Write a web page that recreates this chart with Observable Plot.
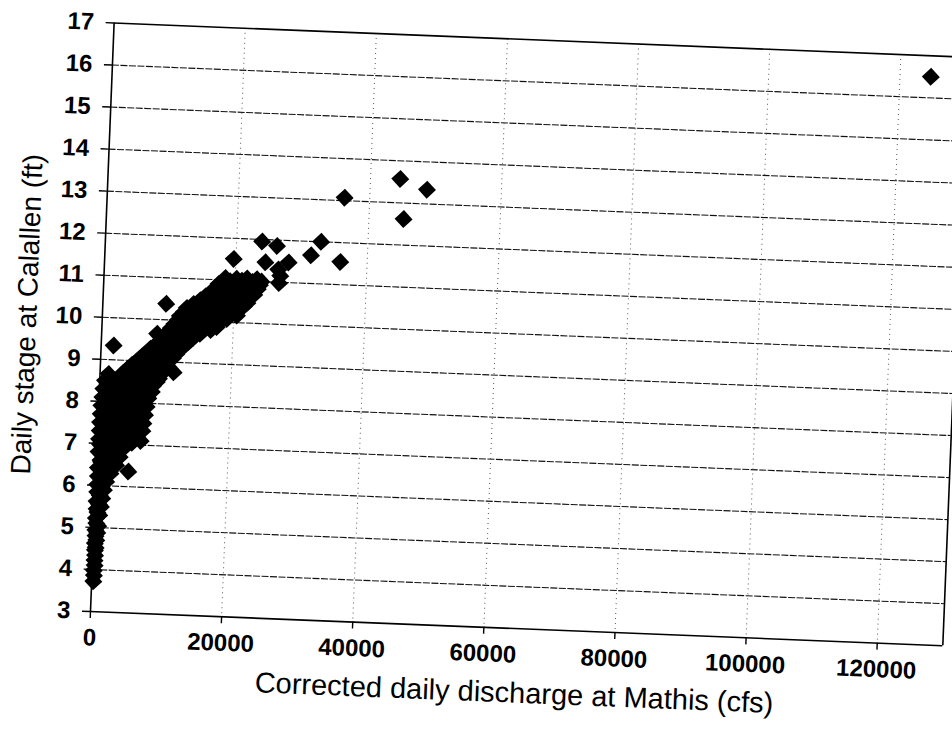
<!DOCTYPE html>
<html>
<head>
<meta charset="utf-8">
<script src="https://cdn.jsdelivr.net/npm/d3@7"></script>
<script src="https://cdn.jsdelivr.net/npm/@observablehq/plot@0.6"></script>
<style>
  html, body { margin: 0; padding: 0; background: #fff; overflow: hidden; }
  #chart { width: 952px; height: 730px; transform: rotate(2.3deg); transform-origin: 90px 611px; }
</style>
</head>
<body>
<div id="chart"></div>
<script>
// Corrected daily discharge at Mathis (cfs) vs daily stage at Calallen (ft)
const xTitle = "Corrected daily discharge at Mathis (cfs)";
const yTitle = "Daily stage at Calallen (ft)";
const xTicks = [0, 20000, 40000, 60000, 80000, 100000, 120000];
const yTicks = [3, 4, 5, 6, 7, 8, 9, 10, 11, 12, 13, 14, 15, 16, 17];

// [discharge, stage] pairs
const stemPoints = [
  [250,3.72],[300,3.86],[250,3.98],[350,4.1],[300,4.22],[350,4.34],[300,4.46],[400,4.52],
  [250,4.62],[450,4.7],[300,4.8],[550,4.88],[250,4.94],[650,5.04],[350,5.1],[250,5.22],
  [750,5.3],[450,5.36],[300,5.44],[950,5.5],[600,5.56],[250,5.62],[1100,5.7],[700,5.76],
  [300,5.84],[1300,5.9],[800,5.96],[250,6.02],[1600,6.1],[900,6.16],[300,6.22],[2200,6.3],
  [1300,6.34],[250,6.42],[3000,6.5],[1800,6.48],[700,6.56],[3500,6.7],[2300,6.68],[1100,6.72],
  [250,6.8],[4000,6.9],[2800,6.88],[1600,6.94],[400,6.98],
  [600,6.4],[1500,6.4],[600,6.6],[1500,6.62],[2600,6.6],[700,6.8],[1900,6.82],[3200,6.8],
  [900,7.0],[2300,7.0],[3300,7.02],[4500,7.0]
];
const bandPoints = [
  [250,7.1],[2000,7.08],[3800,7.12],[5300,7.05],[6600,7.1],
  [300,7.3],[1100,7.28],[2900,7.32],[4600,7.27],[6300,7.3],[6800,7.34],
  [300,7.5],[2000,7.52],[3800,7.48],[5500,7.5],[6900,7.52],
  [350,7.7],[1200,7.68],[2900,7.72],[4600,7.7],[6300,7.68],[7100,7.72],
  [400,7.9],[2100,7.92],[3900,7.88],[5600,7.9],[7300,7.92],
  [500,8.1],[1300,8.08],[3000,8.12],[4700,8.1],[6400,8.08],[7500,8.12],
  [600,8.3],[2200,8.32],[4000,8.28],[5700,8.3],[7400,8.32],[8000,8.28],
  [800,8.5],[2500,8.48],[4200,8.52],[6000,8.5],[7600,8.48],[8700,8.52],
  [3500,8.7],[5200,8.72],[6900,8.68],[8400,8.7],[9400,8.72],
  [4800,8.9],[6500,8.88],[8200,8.92],[9600,8.9],[10300,8.88],
  [6200,9.1],[7800,9.12],[9400,9.08],[11000,9.1],
  [7500,9.3],[9100,9.28],[10600,9.32],[11900,9.3],
  [9000,9.5],[10500,9.52],[12000,9.48],[13300,9.5],
  [10000,9.7],[11600,9.72],[13200,9.68],[15000,9.7],
  [11000,9.9],[12700,9.88],[14400,9.92],[16000,9.9],[17500,9.88],
  [11800,10.1],[13500,10.12],[15200,10.08],[16900,10.1],[18400,10.12],[19000,10.08],
  [12800,10.3],[14500,10.28],[16200,10.32],[17900,10.3],[19400,10.28],[20500,10.32],
  [14800,10.5],[16400,10.52],[18000,10.48],[19600,10.5],[21000,10.52],[22000,10.48],
  [16500,10.7],[18100,10.68],[19700,10.72],[21300,10.7],[23000,10.68],
  [17500,10.9],[19000,10.92],[20600,10.88],[22200,10.9],[23800,10.92],
  [18500,11.05],[20200,11.04],[21800,11.06],[23300,11.05],[24000,11.0]
];
const fillPoints = [
  [1100,7.2],[2900,7.2],[4600,7.18],[6000,7.22],
  [1200,7.4],[2900,7.42],[4700,7.38],[6200,7.4],
  [1100,7.6],[2800,7.62],[4600,7.58],[6100,7.6],
  [1200,7.8],[3000,7.82],[4800,7.78],[6500,7.8],
  [1300,8.0],[3100,8.02],[4900,7.98],[6700,8.0],
  [1400,8.2],[3200,8.22],[5000,8.18],[6800,8.2],
  [1500,8.4],[3300,8.42],[5100,8.38],[6900,8.4],[8100,8.42],
  [3600,8.6],[4900,8.58],[6400,8.62],[8000,8.6],[9000,8.6],
  [4200,8.8],[5900,8.82],[7600,8.78],[9100,8.8],
  [5600,9.0],[7200,9.02],[8700,8.98],[10300,9.0],
  [7000,9.2],[8500,9.22],[10100,9.18],[11500,9.2],
  [8300,9.4],[9900,9.42],[11300,9.38],[12700,9.4],
  [9600,9.6],[11000,9.62],[12500,9.58],[14000,9.6],
  [10500,9.8],[12000,9.82],[13700,9.78],[15300,9.8],[16600,9.8],
  [11500,10.0],[13100,10.02],[14700,9.98],[16400,10.0],[18000,10.02],
  [12400,10.2],[14000,10.22],[15700,10.18],[17400,10.2],[19000,10.22],
  [13800,10.4],[15500,10.42],[17100,10.38],[18700,10.4],[20300,10.42],[21500,10.4],
  [15600,10.6],[17300,10.62],[18900,10.58],[20500,10.6],[22200,10.62],
  [17000,10.8],[18800,10.82],[20400,10.78],[22000,10.8],[23500,10.82],
  [19200,10.98],[21000,11.0],[22600,10.98]
];
const outlierPoints = [
  [4900,6.36],[1300,8.66],[1900,9.34],[8450,9.66],[11200,8.76],[9650,10.38],[20500,10.17],
  [19660,11.51],[23880,11.95],[26170,11.86],[24500,11.46],[28040,11.48],[26500,11.3],
  [26850,11.15],[26700,10.98],[32860,12.0],[31400,11.67],[35900,11.54],[36170,13.07],
  [44530,13.57],[48660,13.34],[45280,12.62],[124700,16.5]
];

const points = [...stemPoints, ...bandPoints, ...fillPoints, ...outlierPoints]
  .map(([discharge, stage]) => ({discharge, stage}));

const font = "'Liberation Sans', Arial, Helvetica, sans-serif";

const chart = Plot.plot({
  width: 952,
  height: 730,
  marginLeft: 90,
  marginTop: 22,
  marginRight: 9,
  marginBottom: 119,
  style: {fontFamily: font, background: "#fff", color: "#000"},
  x: {domain: [0, 130000]},
  y: {domain: [3, 17]},
  marks: [
    Plot.gridY(yTicks.filter(d => d > 3 && d < 17), {stroke: "#111", strokeOpacity: 1, strokeWidth: 1.1, strokeDasharray: "7,1.5"}),
    Plot.gridX(xTicks.filter(d => d > 0), {stroke: "#555", strokeOpacity: 1, strokeWidth: 1, strokeDasharray: "1,4"}),
    Plot.ruleY([17], {stroke: "#000", strokeWidth: 1.6}),
    Plot.ruleX([130000], {stroke: "#000", strokeWidth: 1.6}),
    Plot.ruleY([3], {stroke: "#000", strokeWidth: 1.6}),
    Plot.ruleX([0], {stroke: "#000", strokeWidth: 1.6}),
    Plot.axisY({ticks: yTicks, tickSize: 8, tickPadding: 12, fontSize: 24, fontWeight: "bold", label: null, stroke: "#000", strokeWidth: 1.4}),
    Plot.axisX({ticks: xTicks, tickSize: 7, tickPadding: 10, fontSize: 24, fontWeight: "bold", label: null, tickFormat: d => String(d), stroke: "#000", strokeWidth: 1.4}),
    Plot.dot(points, {x: "discharge", y: "stage", symbol: "diamond2", r: 8.1, fill: "#000", stroke: "none"}),
    Plot.text([xTitle], {frameAnchor: "bottom", dy: 74, fontSize: 29, fill: "#000"}),
    Plot.text([yTitle], {frameAnchor: "left", dx: -75, rotate: -90, textAnchor: "middle", fontSize: 28, fill: "#000"})
  ]
});

document.getElementById("chart").appendChild(chart);
</script>
</body>
</html>
